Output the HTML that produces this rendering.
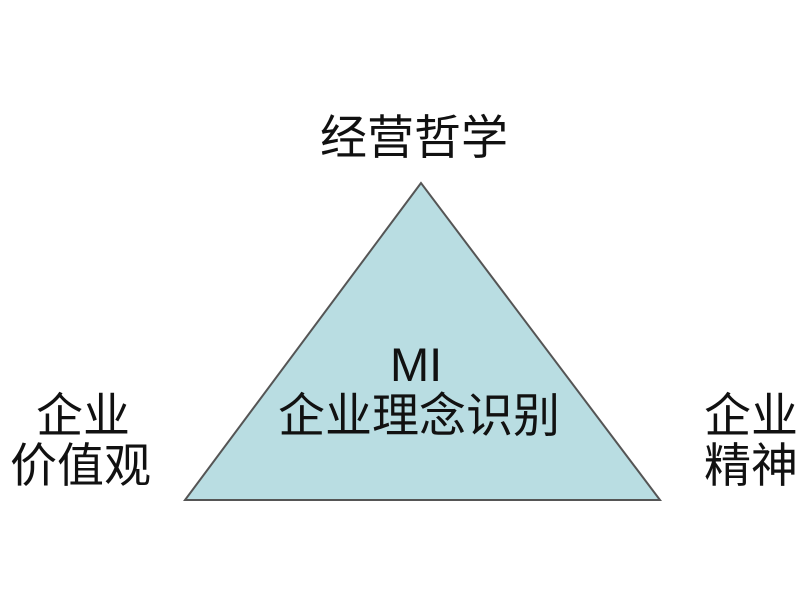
<!DOCTYPE html>
<html><head><meta charset="utf-8"><style>
body{margin:0;width:800px;height:600px;background:#fff;overflow:hidden;position:relative;font-family:"Liberation Sans","Noto Sans CJK SC",sans-serif;color:#111}
.t{position:absolute;font-size:47px;line-height:50px;white-space:nowrap}
</style></head><body>
<svg width="800" height="600" style="position:absolute;left:0;top:0">
<polygon points="421,183 185,500 660,500" fill="#b9dde2" stroke="#555" stroke-width="2"/>
</svg>
<div class="t" style="left:320px;top:113px">经营哲学</div>
<div class="t" style="left:390px;top:340px">MI</div>
<div class="t" style="left:278px;top:391px">企业理念识别</div>
<div class="t" style="left:36px;top:391px">企业</div>
<div class="t" style="left:10px;top:441px">价值观</div>
<div class="t" style="left:704px;top:391px">企业</div>
<div class="t" style="left:704px;top:441px">精神</div>
</body></html>
